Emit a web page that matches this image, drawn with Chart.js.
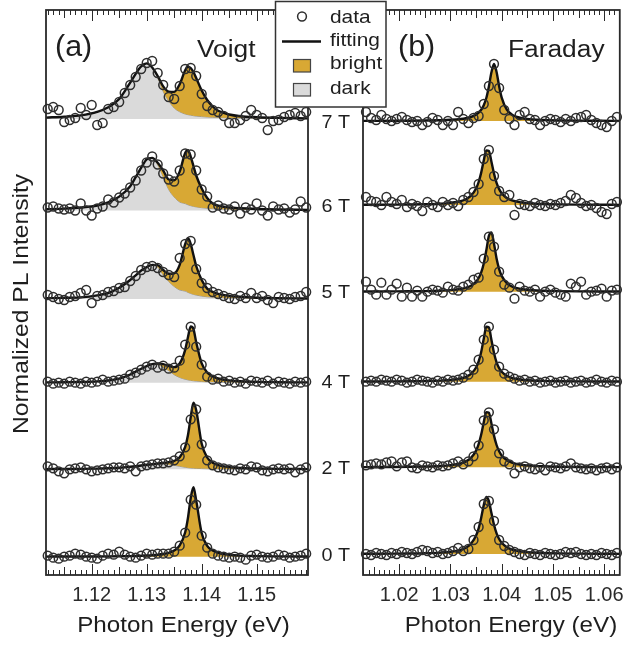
<!DOCTYPE html>
<html><head><meta charset="utf-8">
<script src="https://cdn.jsdelivr.net/npm/chart.js@4.4.1/dist/chart.umd.min.js"></script>
<style>html,body{margin:0;padding:0;background:#fff;}#wrap{position:relative;width:632px;height:646px;}canvas{position:absolute;left:0;top:0;}</style>
</head><body><div id="wrap"><canvas id="cA" width="632" height="646"></canvas><canvas id="cB" width="632" height="646"></canvas></div>
<script>
// ---------- data (intensities in arbitrary units above each trace's baseline) ----------
const fieldLabels = ['7 T', '6 T', '5 T', '4 T', '2 T', '0 T'];

// Panel (a) Voigt
const energyA = [1.112,1.113,1.114,1.115,1.116,1.117,1.118,1.119,1.120,1.121,1.122,1.123,1.124,1.125,1.126,1.127,1.128,1.129,1.130,1.131,1.132,1.133,1.134,1.135,1.136,1.137,1.138,1.139,1.140,1.141,1.142,1.143,1.144,1.145,1.146,1.147,1.148,1.149,1.150,1.151,1.152,1.153,1.154,1.155,1.156,1.157,1.158,1.159];
const fitEnergyA = [1.1117,1.115,1.118,1.121,1.123,1.125,1.127,1.128,1.129,1.130,1.131,1.132,1.133,1.134,1.135,1.136,1.137,1.1375,1.138,1.1385,1.139,1.140,1.141,1.142,1.143,1.145,1.147,1.150,1.154,1.1593];
const offsetA = [456, 364.5, 276, 192.3, 105.7, 18.3];

const pointsA7 = [10,12,9,-3,-1,1,11,4,14,-6,-4,10,12,17,26,34,42,50,56,58,46,34,22,20,33,50,51,43,25,13,9,7,3,-4,-4,-1,3,9,4,1,-11,-2,-1,2,4,6,3,7];
const pointsA6 = [3,4,2,1,2,0,7,0,-5,2,4,11,8,13,17,23,30,40,48,54,46,37,31,29,40,57,56,40,21,14,3,5,2,1,4,-3,3,1,7,0,-5,4,1,2,-2,1,9,3];
const pointsA5 = [4,2,0,-1,2,3,6,9,-4,3,4,7,8,11,12,18,23,29,32,33,31,27,24,22,41,55,58,30,16,11,7,5,3,1,0,3,1,6,1,3,-1,-4,2,1,0,2,3,7];
const pointsA4 = [1,-1,0,-1,1,0,-1,1,0,1,3,1,2,3,4,8,10,13,16,18,15,17,14,15,22,38,56,36,18,6,3,4,1,2,0,1,-1,2,1,0,2,-1,1,0,-1,1,0,1];
const pointsA2 = [3,1,-2,-4,0,1,2,0,-2,-1,0,1,2,2,1,3,-2,3,4,5,6,6,7,9,13,22,50,60,25,9,4,2,1,0,-1,1,0,3,2,-1,-2,0,1,0,1,-3,0,2];
const pointsA0 = [1,-1,-2,0,1,3,2,0,-1,-2,1,3,2,5,2,0,-1,1,3,2,3,3,3,5,11,24,57,52,21,9,3,1,0,-1,0,-1,-3,1,2,0,-1,0,2,1,-1,0,1,3];

const fitA7 = [1.4,2.3,3.6,7.1,11.7,20.0,36.4,45.2,52.6,55.6,51.5,43.0,32.6,27.4,27.1,34.8,48.8,52.3,51.0,47.0,41.0,28.5,19.0,12.5,8.2,4.5,2.8,1.8,1.1,0.6];
const darkA7 = [1.1,2.0,3.3,6.8,11.4,19.7,36.1,44.9,52.3,55.3,51.2,41.0,27.5,18.0,11.0,7.2,5.0,4.3,3.8,3.3,2.9,2.4,2.0,1.7,1.5,1.2,0.9,0.7,0.5,0.3];
const fitA6 = [1.2,1.9,3.0,5.0,8.2,13.9,24.3,33.3,42.8,51.1,52.6,47.7,40.0,31.0,30.3,38.9,57.5,60.2,53.9,44.5,35.0,22.0,12.5,7.0,4.8,3.0,2.2,1.5,1.0,0.6];
const darkA6 = [0.9,1.6,2.7,4.7,7.9,13.6,24.0,33.0,42.5,50.8,52.3,45.5,33.5,21.0,13.5,8.5,6.9,5.7,4.8,4.1,3.6,2.8,2.25,1.9,1.6,1.2,0.96,0.7,0.48,0.32];
const fitA5 = [0.8,1.1,1.6,3.6,6.0,11.2,19.0,23.7,28.5,31.9,34.1,33.9,29.0,25.2,25.7,34.2,54.9,60.7,55.2,44.0,33.0,19.0,10.4,7.1,5.1,3.1,2.2,1.3,0.8,0.5];
const darkA5 = [0.5,0.8,1.3,3.3,5.7,10.9,18.7,23.4,28.2,31.6,33.8,31.8,24.0,17.5,12.5,9.0,7.9,6.6,5.5,4.6,3.9,2.9,2.2,1.8,1.5,1.1,0.9,0.6,0.4,0.3];
const fitA4 = [0.3,0.5,0.7,1.3,2.2,4.0,8.2,11.1,14.0,16.6,18.5,19.2,18.6,16.7,15.6,19.2,32.9,45.5,56.2,53.7,40.5,19.3,10.3,6.2,4.2,2.3,1.4,0.8,0.5,0.3];
const darkA4 = [0.1,0.3,0.5,1.0,1.9,3.7,7.9,10.8,13.7,16.3,18.2,18.0,15.5,12.0,8.0,5.2,3.4,2.8,2.3,1.9,1.6,1.2,0.9,0.7,0.6,0.4,0.3,0.2,0.15,0.1];
const fitA2 = [0.2,0.3,0.4,0.7,1.0,1.5,2.5,3.1,3.8,4.5,5.1,5.8,6.3,7.0,8.4,12.1,22.5,34.1,51.9,66.5,59.1,25.6,11.8,6.6,4.2,2.2,1.3,0.8,0.4,0.2];
const darkA2 = [0.1,0.2,0.3,0.5,0.8,1.2,2.2,2.8,3.4,4.0,4.5,5.0,5.2,4.8,4.0,3.0,2.0,1.6,1.3,1.1,0.9,0.7,0.5,0.4,0.35,0.25,0.2,0.15,0.1,0.05];
const fitA0 = [0.12,0.15,0.2,0.27,0.34,0.45,0.62,0.74,0.91,1.13,1.45,1.9,2.65,3.9,6.2,11.3,24.5,38.7,58.4,69.4,56.3,23.5,10.9,6.1,3.8,1.9,1.1,0.6,0.34,0.19];
const darkA0 = null;

// Panel (b) Faraday
const energyB = [1.0135,1.0145,1.0155,1.0165,1.0175,1.0185,1.0195,1.0205,1.0215,1.0225,1.0235,1.0245,1.0255,1.0265,1.0275,1.0285,1.0295,1.0305,1.0315,1.0325,1.0335,1.0345,1.0355,1.0365,1.0375,1.0385,1.0395,1.0405,1.0415,1.0425,1.0435,1.0445,1.0455,1.0465,1.0475,1.0485,1.0495,1.0505,1.0515,1.0525,1.0535,1.0545,1.0555,1.0565,1.0575,1.0585,1.0595,1.0605,1.0615,1.0625];
const fitEnergyB = [1.0129,1.016,1.019,1.022,1.025,1.028,1.030,1.032,1.033,1.034,1.035,1.0355,1.036,1.0365,1.037,1.0375,1.038,1.0385,1.039,1.0395,1.040,1.041,1.042,1.043,1.044,1.046,1.048,1.051,1.055,1.059,1.0631];
const offsetB = [454, 370, 283.3, 193.3, 107.7, 21];

const pointsB7 = [9,3,1,6,2,0,2,4,1,-1,0,-4,-1,3,1,-4,0,-4,9,2,-2,3,5,17,35,57,33,11,2,-4,6,9,2,1,-4,0,2,1,-1,2,0,3,4,6,1,-2,-4,-6,0,4];
const pointsB6 = [8,4,3,0,8,3,1,5,-2,1,-1,-6,3,0,-2,3,0,2,-1,5,8,13,21,46,55,29,14,8,10,-10,1,0,-1,2,0,-1,1,0,2,4,10,7,2,-1,0,-3,-7,-9,1,3];
const pointsB5 = [10,2,-3,9,-3,2,8,-5,4,-5,1,-5,0,2,1,-1,5,2,1,5,7,12,14,33,55,45,20,7,4,-7,5,1,0,2,-5,0,2,-1,-3,-5,8,5,10,-3,0,1,3,-5,1,2];
const pointsB4 = [0,1,0,2,1,0,2,1,-1,0,2,1,0,-1,1,0,2,1,2,4,7,12,22,42,55,32,15,8,5,3,1,2,0,1,-1,0,1,-1,0,1,-1,0,1,-1,0,2,0,-1,1,0];
const pointsB2 = [2,3,4,3,5,6,1,5,6,0,-1,2,1,0,2,1,2,4,6,3,6,11,22,47,55,38,14,6,3,-6,0,1,-1,-2,0,-3,1,0,-1,1,4,0,-1,-2,-1,-3,-1,0,-2,0];
const pointsB0 = [0,-1,1,0,-1,1,0,2,1,0,2,4,3,1,2,0,1,3,6,3,5,14,27,50,53,33,14,8,4,2,0,-1,1,0,-1,1,0,-1,0,2,1,2,0,-1,0,-1,1,0,-1,1];

const fitB7 = [0.13,0.17,0.23,0.32,0.48,0.79,1.19,2.0,2.77,4.0,6.4,8.3,11.2,15.8,23.0,34.5,48.8,57.0,49.1,34.8,23.4,11.4,6.4,4.0,2.78,1.53,0.96,0.56,0.32,0.21,0.14];
const fitB6 = [0.2,0.26,0.35,0.49,0.76,1.32,2.14,3.9,5.8,9.3,16.5,23.0,32.4,44.6,54.6,54.0,43.3,31.4,22.1,15.9,11.8,7.1,4.6,3.3,2.4,1.45,0.98,0.6,0.36,0.24,0.17];
const fitB5 = [0.16,0.21,0.28,0.39,0.59,1.0,1.55,2.74,3.9,6.0,10.1,13.7,19.3,28.3,41.4,55.8,59.3,48.0,33.2,22.6,15.8,8.6,5.25,3.5,2.5,1.45,0.94,0.57,0.33,0.22,0.15];
const fitB4 = [0.16,0.21,0.28,0.4,0.62,1.08,1.74,3.2,4.8,7.8,14.2,20.2,29.7,42.9,54.9,54.2,41.7,28.6,19.3,13.6,10.0,5.9,3.8,2.67,1.96,1.19,0.79,0.49,0.29,0.2,0.14];
const fitB2 = [0.2,0.26,0.35,0.5,0.77,1.33,2.16,3.9,5.9,9.4,16.7,23.2,32.7,45.1,55.2,54.6,43.8,31.7,22.3,16.1,11.9,7.2,4.6,3.3,2.4,1.47,0.99,0.61,0.36,0.24,0.17];
const fitB0 = [0.2,0.26,0.36,0.51,0.8,1.39,2.26,4.2,6.3,10.2,18.4,25.7,36.3,48.9,57.1,52.9,40.9,29.2,20.6,15.0,11.2,6.8,4.5,3.2,2.4,1.45,0.97,0.6,0.37,0.24,0.17];

const tickLabelsA = [1.12, 1.13, 1.14, 1.15];
const tickLabelsB = [1.02, 1.03, 1.04, 1.05, 1.06];

// ---------- styling ----------
const FONT = "'Liberation Sans', Arial, Helvetica, sans-serif";
const GOLD = '#d8a834', GRAY = '#dadada', INK = '#1e1e1e';
Chart.defaults.font.family = FONT;

const spectraA = [
  {pts: pointsA7, fit: fitA7, dark: darkA7}, {pts: pointsA6, fit: fitA6, dark: darkA6},
  {pts: pointsA5, fit: fitA5, dark: darkA5}, {pts: pointsA4, fit: fitA4, dark: darkA4},
  {pts: pointsA2, fit: fitA2, dark: darkA2}, {pts: pointsA0, fit: fitA0, dark: darkA0}];
const spectraB = [
  {pts: pointsB7, fit: fitB7}, {pts: pointsB6, fit: fitB6}, {pts: pointsB5, fit: fitB5},
  {pts: pointsB4, fit: fitB4}, {pts: pointsB2, fit: fitB2}, {pts: pointsB0, fit: fitB0}];

function buildDatasets(spectra, offsets, energy, fitEnergy) {
  const ds = [];
  spectra.forEach((s, i) => {
    const off = offsets[i];
    const lineBase = {pointRadius: 0, cubicInterpolationMode: 'monotone', showLine: true};
    if (s.dark) {
      ds.push(Object.assign({}, lineBase, {label: 'dark ' + fieldLabels[i],
        data: fitEnergy.map((x, j) => ({x, y: off + s.dark[j]})),
        borderColor: '#8d8d8d', borderWidth: 0.9, backgroundColor: GRAY, fill: {value: off}, order: 2}));
      ds.push(Object.assign({}, lineBase, {label: 'fitting ' + fieldLabels[i],
        data: fitEnergy.map((x, j) => ({x, y: off + s.fit[j]})),
        borderColor: '#111', borderWidth: 2.4, backgroundColor: GOLD, fill: '-1', order: 1}));
    } else {
      ds.push(Object.assign({}, lineBase, {label: 'fitting ' + fieldLabels[i],
        data: fitEnergy.map((x, j) => ({x, y: off + s.fit[j]})),
        borderColor: '#111', borderWidth: 2.4, backgroundColor: GOLD, fill: {value: off}, order: 1}));
    }
    ds.push({label: 'data ' + fieldLabels[i], showLine: false,
      data: energy.map((x, j) => ({x, y: off + s.pts[j]})),
      pointRadius: 4.4, pointBorderWidth: 1.5, pointBorderColor: '#2e2e2e',
      pointBackgroundColor: 'rgba(0,0,0,0)', order: 0, clip: false});
  });
  return ds;
}

function txt(ctx, s, x, y, size, align, sx, baseline) {
  ctx.save();
  ctx.font = size + 'px ' + FONT;
  ctx.fillStyle = INK;
  ctx.textAlign = align;
  ctx.textBaseline = baseline || 'alphabetic';
  ctx.translate(x, y);
  ctx.scale(sx, 1);
  ctx.fillText(s, 0, 0);
  ctx.restore();
}

const frameTicks = {
  id: 'frameTicks',
  afterDatasetsDraw(chart) {
    const {ctx, chartArea: a} = chart;
    const x = chart.scales.x;
    ctx.save();
    ctx.strokeStyle = '#2a2a2a';
    ctx.lineWidth = 1;
    const lo = Math.ceil(x.min * 1000 - 1e-6), hi = Math.floor(x.max * 1000 + 1e-6);
    ctx.beginPath();
    for (let i = lo; i <= hi; i++) {
      const px = Math.round(x.getPixelForValue(i / 1000)) + 0.5;
      const len = i % 10 === 0 ? 11 : (i % 5 === 0 ? 8 : 5);
      ctx.moveTo(px, a.bottom); ctx.lineTo(px, a.bottom - len);
      ctx.moveTo(px, a.top); ctx.lineTo(px, a.top + len);
    }
    ctx.stroke();
    ctx.lineWidth = 1.8;
    ctx.strokeRect(a.left, a.top, a.right - a.left, a.bottom - a.top);
    ctx.restore();
  }
};

const textA = {
  id: 'textA',
  afterDraw(chart) {
    const ctx = chart.ctx;
    txt(ctx, '(a)', 55, 56, 29, 'left', 1.05);
    txt(ctx, 'Voigt', 197, 57, 23.5, 'left', 1.12);
    txt(ctx, 'Photon Energy (eV)', 183.5, 632, 22, 'center', 1.1);
    ctx.save();
    ctx.font = '22px ' + FONT;
    ctx.fillStyle = INK;
    ctx.textAlign = 'center';
    ctx.textBaseline = 'alphabetic';
    ctx.translate(27.5, 304);
    ctx.rotate(-Math.PI / 2);
    ctx.scale(1.12, 1);
    ctx.fillText('Normalized PL Intensity', 0, 0);
    ctx.restore();
  }
};

const textB = {
  id: 'textB',
  afterDraw(chart) {
    const ctx = chart.ctx;
    const y = chart.scales.y;
    txt(ctx, '(b)', 398, 56, 29, 'left', 1.05);
    txt(ctx, 'Faraday', 508, 57, 23.5, 'left', 1.12);
    txt(ctx, 'Photon Energy (eV)', 511, 632, 22, 'center', 1.1);
    offsetB.forEach((off, i) => {
      txt(ctx, fieldLabels[i], 350, y.getPixelForValue(off) + 1.5, 19, 'right', 1.04, 'middle');
    });
    // legend
    ctx.save();
    ctx.fillStyle = '#fff';
    ctx.fillRect(275, 1.5, 111, 105.5);
    ctx.strokeStyle = '#333';
    ctx.lineWidth = 1.5;
    ctx.strokeRect(275.5, 1.5, 110.5, 105.5);
    ctx.beginPath();
    ctx.arc(302, 16.5, 4.4, 0, Math.PI * 2);
    ctx.lineWidth = 1.5;
    ctx.strokeStyle = '#2e2e2e';
    ctx.stroke();
    ctx.beginPath();
    ctx.moveTo(282, 41.5); ctx.lineTo(321, 41.5);
    ctx.lineWidth = 2.4; ctx.strokeStyle = '#111'; ctx.stroke();
    ctx.lineWidth = 1.2; ctx.strokeStyle = '#444';
    ctx.fillStyle = GOLD; ctx.fillRect(293.5, 59.5, 17, 12.5); ctx.strokeRect(293.5, 59.5, 17, 12.5);
    ctx.fillStyle = GRAY; ctx.fillRect(293.5, 83.5, 17, 12.5); ctx.strokeRect(293.5, 83.5, 17, 12.5);
    ctx.restore();
    txt(ctx, 'data', 330, 23, 19, 'left', 1.1);
    txt(ctx, 'fitting', 330, 46, 19, 'left', 1.1);
    txt(ctx, 'bright', 330, 69, 19, 'left', 1.1);
    txt(ctx, 'dark', 330, 94, 19, 'left', 1.1);
  }
};

function makeChart(id, datasets, xmin, xmax, ticks, padL, padR, extraPlugin) {
  return new Chart(document.getElementById(id), {
    type: 'line',
    data: {datasets},
    options: {
      responsive: false, animation: false, devicePixelRatio: 1, events: [],
      layout: {padding: {left: padL, right: padR, top: 10, bottom: 0}},
      plugins: {legend: {display: false}, tooltip: {enabled: false}},
      scales: {
        x: {type: 'linear', position: 'bottom', min: xmin, max: xmax,
          grid: {display: false, drawTicks: false}, border: {display: false},
          afterFit: s => { s.height = 71; },
          afterBuildTicks: s => { s.ticks = ticks.map(v => ({value: v})); },
          ticks: {color: '#2a2a2a', padding: 8, maxRotation: 0, autoSkip: false,
            font: {size: 20, family: FONT}, callback: v => Number(v).toFixed(2)}},
        y: {type: 'linear', display: false, min: 0, max: 565}
      }
    },
    plugins: [frameTicks, extraPlugin]
  });
}

makeChart('cA', buildDatasets(spectraA, offsetA, energyA, fitEnergyA), 1.11169, 1.15933, tickLabelsA, 46, 324, textA);
makeChart('cB', buildDatasets(spectraB, offsetB, energyB, fitEnergyB), 1.01292, 1.06306, tickLabelsB, 363, 7, textB);
</script></body></html>
